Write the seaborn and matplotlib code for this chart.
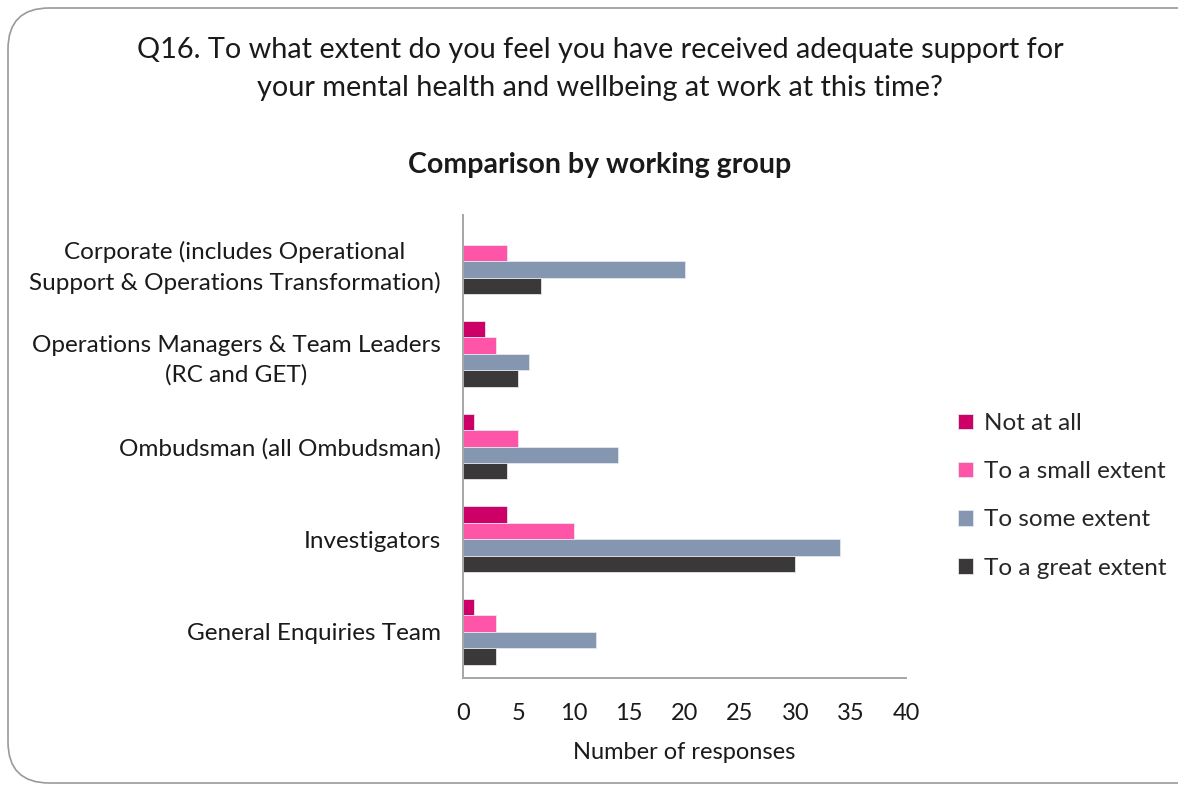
import matplotlib
matplotlib.use("Agg")
import matplotlib.pyplot as plt
from matplotlib.patches import FancyBboxPatch
import seaborn as sns
import pandas as pd

# Survey responses by working group
groups = [
    "Corporate (includes Operational\nSupport & Operations Transformation)",
    "Operations Managers & Team Leaders\n(RC and GET)",
    "Ombudsman (all Ombudsman)",
    "Investigators",
    "General Enquiries Team",
]
answers = ["Not at all", "To a small extent", "To some extent", "To a great extent"]
not_at_all = [0, 2, 1, 4, 1]
small_extent = [4, 3, 5, 10, 3]
some_extent = [20, 6, 14, 34, 12]
great_extent = [7, 5, 4, 30, 3]
x_ticks = [0, 5, 10, 15, 20, 25, 30, 35, 40]

colors = ["#CC0066", "#FF55A8", "#8496B0", "#3A3839"]

rows = []
for series, vals in zip(answers, [not_at_all, small_extent, some_extent, great_extent]):
    for g, v in zip(groups, vals):
        rows.append({"group": g, "answer": series, "count": v})
df = pd.DataFrame(rows)

sns.set_theme(style="white")
plt.rcParams["font.family"] = ["Lato", "DejaVu Sans"]

fig = plt.figure(figsize=(11.78, 7.89), dpi=100)
ax = fig.add_axes([463 / 1178, 111 / 789, 443 / 1178, 463 / 789])

sns.barplot(
    data=df, y="group", x="count", hue="answer",
    order=groups, hue_order=answers, palette=colors,
    orient="h", width=0.71, ax=ax, saturation=1,
    edgecolor="#E6E6EE", linewidth=0.6,
)

ax.set_xlim(0, 40)
ax.set_xticks(x_ticks)
ax.set_xticklabels([str(t) for t in x_ticks], fontsize=17, color="#1A1A1A")
ax.set_ylabel("")
ax.set_xlabel("Number of responses", fontsize=17, color="#1A1A1A", labelpad=13)
ax.tick_params(axis="x", direction="out", length=7, width=1.2, color="#A6A6A6", pad=11)
ax.tick_params(axis="y", length=0, pad=16)
for lab in ax.get_yticklabels():
    lab.set_fontsize(17.5)
    lab.set_color("#1A1A1A")
    lab.set_multialignment("center")
    lab.set_linespacing(1.5)

for side in ["top", "right"]:
    ax.spines[side].set_visible(False)
for side in ["left", "bottom"]:
    ax.spines[side].set_color("#A6A6A6")
    ax.spines[side].set_linewidth(1.4)

handles, labels = ax.get_legend_handles_labels()
ax.legend(
    handles, labels, loc="upper left", bbox_to_anchor=(958 / 1178, 1 - 413 / 789),
    bbox_transform=fig.transFigure, frameon=False, fontsize=17.5,
    handlelength=0.6, handleheight=0.6, handletextpad=0.45, labelspacing=1.12,
    borderpad=0, borderaxespad=0,
)

fig.text(600 / 1178, 1 - 50 / 789, "Q16. To what extent do you feel you have received adequate support for",
         ha="center", va="center", fontsize=20.8, color="#1A1A1A")
fig.text(600 / 1178, 1 - 88 / 789, "your mental health and wellbeing at work at this time?",
         ha="center", va="center", fontsize=20.8, color="#1A1A1A")
fig.text(600 / 1178, 1 - 165 / 789, "Comparison by working group",
         ha="center", va="center", fontsize=20.5, fontweight="bold", color="#1A1A1A")

frame = FancyBboxPatch((8 / 1178, 6 / 789), 1.2, 1 - 14 / 789,
                       boxstyle="round,pad=0,rounding_size=0.035",
                       transform=fig.transFigure, fill=False,
                       edgecolor="#9A9A9A", linewidth=1.2, mutation_aspect=1178 / 789)
fig.patches.append(frame)

fig.savefig("out.png", dpi=100)
